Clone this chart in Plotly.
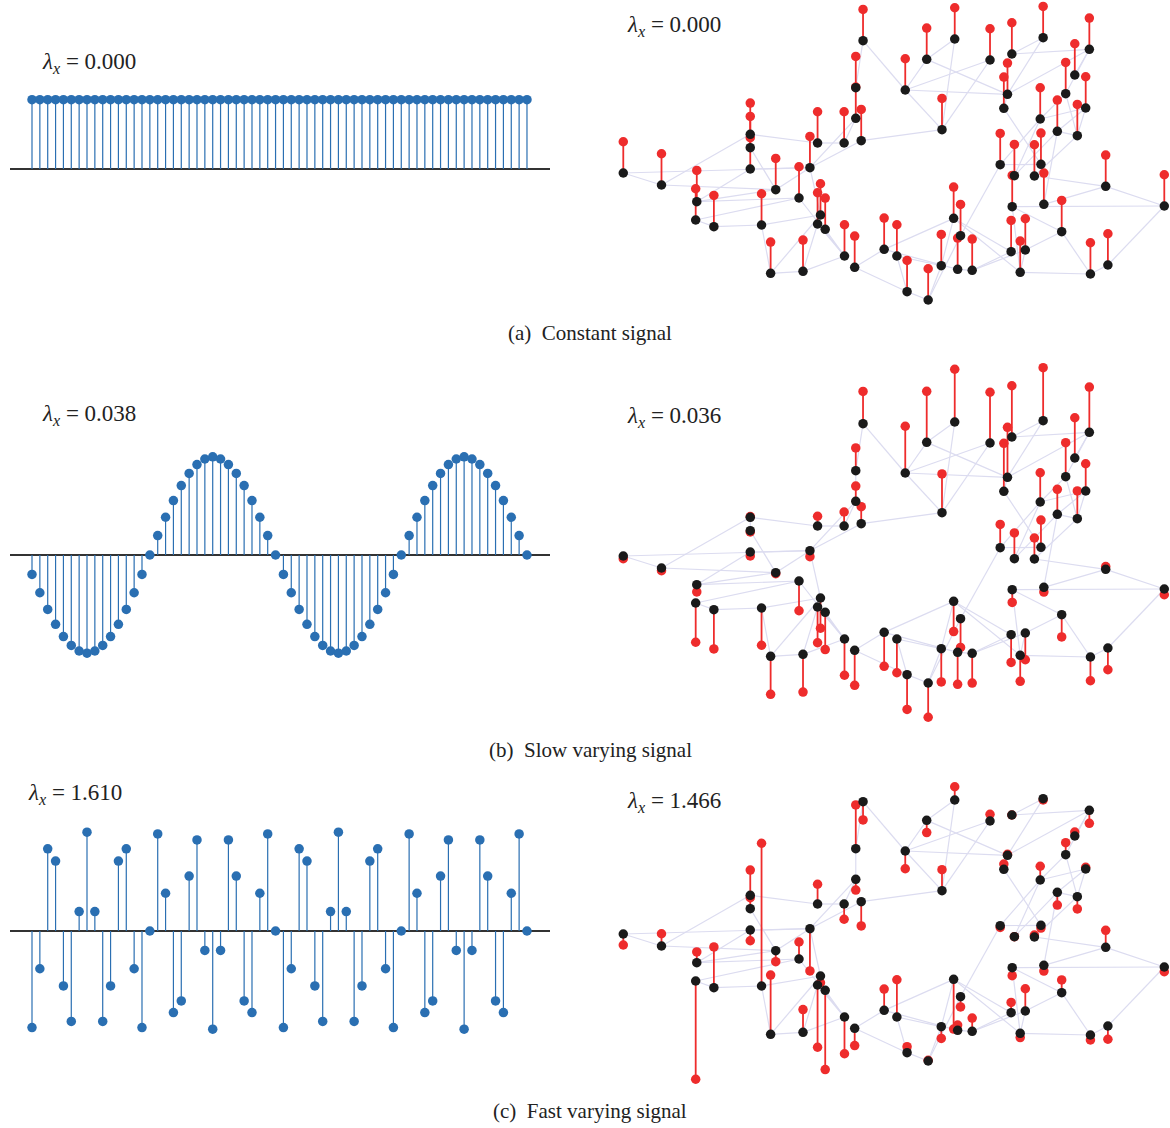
import plotly.graph_objects as go

W, H = 1170, 1128

# ---------------- 1-D path graph signals (64 samples) ----------------
IDX = list(range(64))
SIG_CONST = [0.125, 0.125, 0.125, 0.125, 0.125, 0.125, 0.125, 0.125,
             0.125, 0.125, 0.125, 0.125, 0.125, 0.125, 0.125, 0.125,
             0.125, 0.125, 0.125, 0.125, 0.125, 0.125, 0.125, 0.125,
             0.125, 0.125, 0.125, 0.125, 0.125, 0.125, 0.125, 0.125,
             0.125, 0.125, 0.125, 0.125, 0.125, 0.125, 0.125, 0.125,
             0.125, 0.125, 0.125, 0.125, 0.125, 0.125, 0.125, 0.125,
             0.125, 0.125, 0.125, 0.125, 0.125, 0.125, 0.125, 0.125,
             0.125, 0.125, 0.125, 0.125, 0.125, 0.125, 0.125, 0.125]
SIG_SLOW = [-0.035, -0.068, -0.098, -0.125, -0.147, -0.163, -0.173, -0.177,
            -0.173, -0.163, -0.147, -0.125, -0.098, -0.068, -0.035, 0.0,
            0.035, 0.068, 0.098, 0.125, 0.147, 0.163, 0.173, 0.177,
            0.173, 0.163, 0.147, 0.125, 0.098, 0.068, 0.035, 0.0,
            -0.035, -0.068, -0.098, -0.125, -0.147, -0.163, -0.173, -0.177,
            -0.173, -0.163, -0.147, -0.125, -0.098, -0.068, -0.035, 0.0,
            0.035, 0.068, 0.098, 0.125, 0.147, 0.163, 0.173, 0.177,
            0.173, 0.163, 0.147, 0.125, 0.098, 0.068, 0.035, 0.0]
SIG_FAST = [-0.174, -0.068, 0.148, 0.126, -0.099, -0.163, 0.035, 0.178,
            0.035, -0.163, -0.099, 0.126, 0.148, -0.068, -0.174, 0.0,
            0.175, 0.068, -0.147, -0.126, 0.099, 0.164, -0.035, -0.177,
            -0.035, 0.164, 0.099, -0.126, -0.147, 0.068, 0.175, 0.0,
            -0.174, -0.068, 0.148, 0.126, -0.099, -0.163, 0.035, 0.178,
            0.035, -0.163, -0.099, 0.126, 0.148, -0.068, -0.174, 0.0,
            0.175, 0.068, -0.147, -0.126, 0.099, 0.164, -0.035, -0.177,
            -0.035, 0.164, 0.099, -0.126, -0.147, 0.068, 0.175, 0.0]

# ---------------- sensor graph (64 nodes) ----------------
NODE_X = [723, 975, 1218, 1345, 898, 1072, 1132, 703, 839, 1120,
          1110, 1305, 1280, 1335, 940, 703, 1210, 1257, 1312, 598,
          671, 718, 413, 413, 413, 64, 169, 266, 263, 313,
          483, 547, 577, 444, 606, 598, 619, 469, 558, 672,
          700, 781, 816, 844, 902, 938, 972, 991, 983, 1023,
          1100, 1139, 1194, 1212, 1390, 1551, 1133, 1220, 1269, 1130,
          1169, 1155, 1348, 1396]
NODE_Y = [798, 803, 807, 772, 742, 740, 758, 657, 650, 637,
          595, 695, 639, 596, 531, 565, 563, 526, 513, 491,
          491, 498, 517, 477, 413, 401, 365, 315, 260, 240,
          351, 326, 417, 245, 275, 248, 232, 100, 106, 152,
          118, 172, 152, 45, 20, 123, 265, 213, 112, 109,
          426, 393, 392, 427, 361, 302, 300, 307, 225, 165,
          170, 103, 98, 125]

EDGES = [(0, 8), (0, 7), (7, 15), (8, 4), (8, 14), (8, 5), (8, 9), (4, 1),
         (4, 9), (1, 14), (5, 14), (6, 3), (6, 2), (2, 9), (9, 3), (11, 3),
         (12, 3), (12, 16), (12, 18), (10, 53), (16, 13), (16, 50), (16, 51),
         (17, 18), (17, 51), (18, 52), (53, 50), (52, 54), (57, 17), (54, 55),
         (54, 57), (56, 55), (56, 58), (56, 61), (58, 60), (58, 62), (55, 63),
         (63, 62), (62, 61), (61, 60), (59, 49), (60, 49), (50, 47), (46, 59),
         (46, 61), (46, 45), (46, 41), (47, 44), (45, 44), (45, 42), (43, 44),
         (43, 42), (43, 40), (41, 40), (48, 49), (41, 48), (39, 36), (39, 35),
         (39, 31), (38, 37), (38, 39), (37, 33), (37, 34), (38, 35), (33, 34),
         (33, 29), (29, 28), (28, 31), (27, 31), (27, 30), (27, 24), (26, 25),
         (25, 32), (22, 19), (22, 26), (23, 30), (30, 32), (32, 15), (32, 21),
         (32, 34), (19, 20), (20, 15), (21, 14), (26, 30), (22, 23), (24, 32),
         (9, 10), (13, 18), (17, 13)]

GSIG_CONST = [0.125, 0.125, 0.125, 0.125, 0.125, 0.125, 0.125, 0.125,
              0.125, 0.125, 0.125, 0.125, 0.125, 0.125, 0.125, 0.125,
              0.125, 0.125, 0.125, 0.125, 0.125, 0.125, 0.125, 0.125,
              0.125, 0.125, 0.125, 0.125, 0.125, 0.125, 0.125, 0.125,
              0.125, 0.125, 0.125, 0.125, 0.125, 0.125, 0.125, 0.125,
              0.125, 0.125, 0.125, 0.125, 0.125, 0.125, 0.125, 0.125,
              0.125, 0.125, 0.125, 0.125, 0.125, 0.125, 0.125, 0.125,
              0.125, 0.125, 0.125, 0.125, 0.125, 0.125, 0.125, 0.125]
GSIG_SLOW = [0.129, 0.211, 0.212, 0.181, 0.204, 0.203, 0.205, 0.091, 0.187, 0.200,
             0.192, 0.161, 0.136, 0.109, 0.155, 0.061, 0.117, 0.100, 0.111, 0.039,
             0.056, 0.068, 0.003, -0.005, -0.016, -0.011, -0.011, -0.029, -0.157, -0.157,
             -0.004, -0.119, -0.024, -0.149, -0.121, -0.143, -0.149, -0.152, -0.151, -0.145,
             -0.140, -0.136, -0.135, -0.139, -0.137, -0.133, -0.121, -0.115, -0.128, -0.119,
             0.093, 0.103, 0.084, 0.109, 0.011, -0.023, -0.051, -0.019, -0.089, -0.111,
             -0.107, -0.104, -0.095, -0.087]
GSIG_FAST = [-0.073, 0.053, -0.005, -0.052, -0.049, 0.027, 0.0, 0.175, -0.071, 0.004,
             0.021, 0.016, 0.048, 0.007, 0.084, -0.043, 0.055, -0.051, -0.049, 0.079,
             -0.061, -0.097, 0.101, 0.044, -0.043, -0.044, 0.049, 0.043, -0.393, 0.163,
             -0.044, 0.068, -0.169, 0.571, -0.027, -0.249, -0.317, 0.237, 0.091, -0.147,
             -0.069, 0.085, 0.149, 0.024, 0.003, -0.047, -0.199, -0.041, 0.021, 0.053,
             -0.007, 0.0, 0.008, -0.011, 0.068, -0.019, -0.032, -0.023, 0.051, 0.041,
             0.089, -0.017, -0.020, -0.053]

LAMBDA_LEFT = ["0.000", "0.038", "1.610"]
LAMBDA_RIGHT = ["0.000", "0.036", "1.466"]
CAPTIONS = ["(a)  Constant signal", "(b)  Slow varying signal", "(c)  Fast varying signal"]

# ---------------- styling / layout ----------------
BLUE = "#2a6fb2"
RED = "#ee2c2c"
BLACK = "#1a1a1a"
EDGE = "#dcdcf0"
FONT = "Liberation Serif"
GRAPH_SCALE = 750.0      # layout units per signal unit
GRAPH_XRANGE = 1566.7    # layout units across the 570 px wide graph panel

def px_x(p):
    return p / W

def px_y(p):
    return 1 - p / H

fig = go.Figure()

left_specs = [  # (top px, bottom px, zero px)
    (60, 200, 169),
    (430, 700, 555),
    (810, 1060, 931),
]
left_scale = 555.0
left_signals = [SIG_CONST, SIG_SLOW, SIG_FAST]

right_specs = [  # (top px, bottom px, y-range)
    (0, 320, [-40, 920]),
    (360, 740, [-151, 989]),
    (770, 1100, [-97, 893]),
]
right_signals = [GSIG_CONST, GSIG_SLOW, GSIG_FAST]

layout_axes = {}
ax = 1
for k in range(3):
    # ---- left stem plot ----
    top, bot, y0 = left_specs[k]
    xa, ya = f"x{ax}", f"y{ax}"
    sig = left_signals[k]
    sx, sy = [], []
    for i, v in zip(IDX, sig):
        sx += [i, i, None]
        sy += [0, v, None]
    fig.add_trace(go.Scatter(x=sx, y=sy, mode="lines", line=dict(color=BLUE, width=1.2),
                             xaxis=xa, yaxis=ya, hoverinfo="skip", showlegend=False))
    fig.add_trace(go.Scatter(x=IDX, y=sig, mode="markers",
                             marker=dict(color=BLUE, size=9.5, line=dict(width=0)),
                             xaxis=xa, yaxis=ya, showlegend=False, cliponaxis=False))
    layout_axes[f"xaxis{ax}" if ax > 1 else "xaxis"] = dict(
        domain=[px_x(10), px_x(550)], range=[-2.8, 65.93], visible=False, anchor=ya)
    layout_axes[f"yaxis{ax}" if ax > 1 else "yaxis"] = dict(
        domain=[px_y(bot), px_y(top)],
        range=[-(bot - y0) / left_scale, (y0 - top) / left_scale],
        showgrid=False, showticklabels=False, ticks="", showline=False,
        zeroline=True, zerolinecolor="#333333", zerolinewidth=1.5, anchor=xa)
    ax += 1

    # ---- right graph plot ----
    top, bot, yr = right_specs[k]
    xa, ya = f"x{ax}", f"y{ax}"
    gs = right_signals[k]
    ex, ey = [], []
    for a, b in EDGES:
        ex += [NODE_X[a], NODE_X[b], None]
        ey += [NODE_Y[a], NODE_Y[b], None]
    fig.add_trace(go.Scatter(x=ex, y=ey, mode="lines", line=dict(color=EDGE, width=1.2),
                             xaxis=xa, yaxis=ya, hoverinfo="skip", showlegend=False))
    top_y = [yv + GRAPH_SCALE * v for yv, v in zip(NODE_Y, gs)]
    rx, ry = [], []
    for xv, yv, tv in zip(NODE_X, NODE_Y, top_y):
        rx += [xv, xv, None]
        ry += [yv, tv, None]
    fig.add_trace(go.Scatter(x=rx, y=ry, mode="lines", line=dict(color=RED, width=1.8),
                             xaxis=xa, yaxis=ya, hoverinfo="skip", showlegend=False))
    fig.add_trace(go.Scatter(x=NODE_X, y=top_y, mode="markers",
                             marker=dict(color=RED, size=9.5, line=dict(width=0)),
                             xaxis=xa, yaxis=ya, showlegend=False, cliponaxis=False))
    fig.add_trace(go.Scatter(x=NODE_X, y=NODE_Y, mode="markers",
                             marker=dict(color=BLACK, size=9.5, line=dict(width=0)),
                             xaxis=xa, yaxis=ya, showlegend=False, cliponaxis=False))
    layout_axes[f"xaxis{ax}"] = dict(domain=[px_x(600), px_x(1170)], range=[0, GRAPH_XRANGE],
                                     visible=False, anchor=ya)
    layout_axes[f"yaxis{ax}"] = dict(domain=[px_y(bot), px_y(top)], range=yr,
                                     visible=False, anchor=xa)
    ax += 1

fig.update_layout(**layout_axes)

annotations = []
left_label_pos = [(40, 63), (40, 415), (26, 794)]
right_label_pos = [(625, 26), (625, 417), (625, 802)]
caption_y = [333, 750, 1111]
for k in range(3):
    for (lx, ly), lam in ((left_label_pos[k], LAMBDA_LEFT[k]), (right_label_pos[k], LAMBDA_RIGHT[k])):
        annotations.append(dict(
            x=px_x(lx), y=px_y(ly), xref="paper", yref="paper", xanchor="left", yanchor="middle",
            text=f"<i>λ</i><sub><i>x</i></sub> = {lam}", showarrow=False,
            font=dict(family=FONT, size=23, color="#222222")))
    annotations.append(dict(
        x=px_x(590), y=px_y(caption_y[k]), xref="paper", yref="paper", xanchor="center",
        yanchor="middle", text=CAPTIONS[k].replace("  ", "&nbsp;&nbsp;"), showarrow=False,
        font=dict(family=FONT, size=21, color="#222222")))

fig.update_layout(
    width=W, height=H, margin=dict(l=0, r=0, t=0, b=0),
    paper_bgcolor="white", plot_bgcolor="white",
    annotations=annotations, showlegend=False,
)

fig.write_html("out.html", config={"displayModeBar": False})

# remove the browser's default page margin so the figure sits at the page origin
with open("out.html", "r", encoding="utf-8") as fh:
    html = fh.read()
html = html.replace("<head>", "<head><style>html,body{margin:0;padding:0;overflow:hidden;}</style>", 1)
with open("out.html", "w", encoding="utf-8") as fh:
    fh.write(html)
